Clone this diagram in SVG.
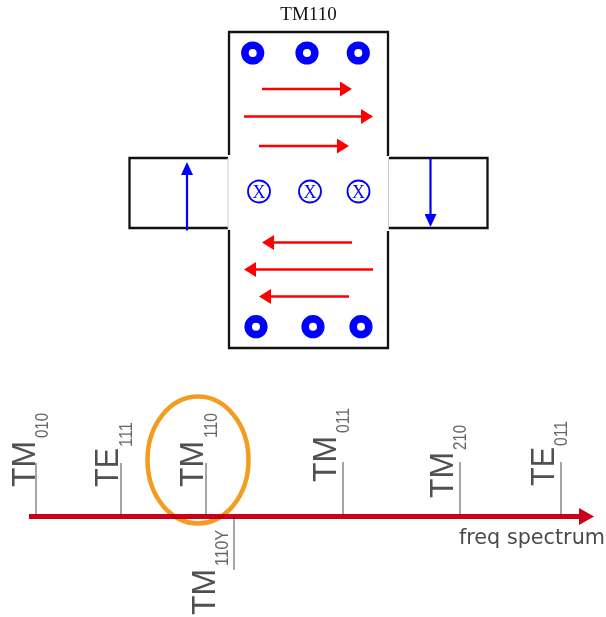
<svg xmlns="http://www.w3.org/2000/svg" width="606" height="617" viewBox="0 0 606 617">
<style>
.wall{fill:none;stroke:#111;stroke-width:2.300}
.seam{fill:none;stroke:#ccc;stroke-width:1}
.ring{fill:#fff;stroke:#00f;stroke-width:7.600}
.cross{fill:#fff;stroke:#00f;stroke-width:1.800}
.x{font-family:"Liberation Serif",serif;font-size:18px;fill:#00f;text-anchor:middle}
.red{stroke:#f00;stroke-width:2.300;fill:none}
.blue{stroke:#00f;stroke-width:2.200;fill:none}
.tick{stroke:#777;stroke-width:1.300}
.m{font-family:"Liberation Sans",sans-serif;font-size:33px;fill:#505050}
.s{font-family:"Liberation Sans",sans-serif;font-size:18px;fill:#666}
</style>
<defs>
<marker id="hr" markerUnits="userSpaceOnUse" markerWidth="12" markerHeight="15" refX="0" refY="7.500" orient="auto"><path d="M0 0L12 7.500L0 15Z" fill="#f00"/></marker>
<marker id="hb" markerUnits="userSpaceOnUse" markerWidth="13" markerHeight="12" refX="0" refY="6" orient="auto"><path d="M0 0L13 6L0 12Z" fill="#00f"/></marker>
</defs>
<text id="title" x="308.500" y="19.500" font-family="Liberation Serif, serif" font-size="19" text-anchor="middle" fill="#111">TM110</text>
<g id="cavity">
<path class="wall" d="M229 155V32H388V156"/>
<path class="wall" d="M229 230V348H388V231"/>
<path class="wall" d="M228 158H129.500V228H228"/>
<path class="wall" d="M389 158H487.500V228H389"/>
<path class="seam" d="M228 158V228M388.500 158V230"/>
</g>
<g id="rings-top"><circle class="ring" cx="252.700" cy="53" r="7.800"/><circle class="ring" cx="307" cy="53" r="7.800"/><circle class="ring" cx="358.300" cy="53" r="7.800"/></g>
<g id="rings-bottom"><circle class="ring" cx="256" cy="326.700" r="7.800"/><circle class="ring" cx="313" cy="326.700" r="7.800"/><circle class="ring" cx="361" cy="326.700" r="7.800"/></g>
<g id="crosses">
<circle class="cross" cx="259" cy="191.500" r="11"/><text class="x" x="259" y="197.500">X</text>
<circle class="cross" cx="310" cy="191.500" r="11"/><text class="x" x="310" y="197.500">X</text>
<circle class="cross" cx="358.500" cy="191.500" r="11"/><text class="x" x="358.500" y="197.500">X</text>
</g>
<g id="connectors">
<path class="red" marker-end="url(#hr)" d="M262 89H340"/>
<path class="red" marker-end="url(#hr)" d="M244 116.500H361"/>
<path class="red" marker-end="url(#hr)" d="M259 146H337"/>
<path class="red" marker-end="url(#hr)" d="M352 242.500H274"/>
<path class="red" marker-end="url(#hr)" d="M373 269.500H256"/>
<path class="red" marker-end="url(#hr)" d="M349 296.500H271"/>
<path class="blue" marker-end="url(#hb)" d="M187 230.500V175"/>
<path class="blue" marker-end="url(#hb)" d="M430.500 158V214"/>
</g>
<g id="spectrum">
<path class="tick" d="M36 463V515M121 463V515M206 463V515M343 462V515M460 462V515M561 462V515M234 517V570"/>
<ellipse cx="198" cy="460" rx="50.500" ry="63.500" fill="none" stroke="#f39c1f" stroke-width="4.500"/>
<path d="M29 516.500H580" stroke="#c8001e" stroke-width="5" fill="none" style="mix-blend-mode:multiply"/>
<path d="M579 508L594 516.500L579 525Z" fill="#c8001e"/>
<text x="459" y="544" font-family="DejaVu Sans, sans-serif" font-size="21" fill="#4a4a4a" textLength="146" lengthAdjust="spacingAndGlyphs">freq spectrum</text>
</g>
<g id="labels">
<text class="m" textLength="46" lengthAdjust="spacingAndGlyphs" transform="translate(35 487) rotate(-90)">TM</text><text class="s" textLength="25" lengthAdjust="spacingAndGlyphs" transform="translate(47.500 438) rotate(-90)">010</text>
<text class="m" textLength="39" lengthAdjust="spacingAndGlyphs" transform="translate(118 487) rotate(-90)">TE</text><text class="s" textLength="25" lengthAdjust="spacingAndGlyphs" transform="translate(131.500 447) rotate(-90)">111</text>
<text class="m" textLength="46" lengthAdjust="spacingAndGlyphs" transform="translate(203 487) rotate(-90)">TM</text><text class="s" textLength="25" lengthAdjust="spacingAndGlyphs" transform="translate(216.500 438) rotate(-90)">110</text>
<text class="m" textLength="46" lengthAdjust="spacingAndGlyphs" transform="translate(215 615) rotate(-90)">TM</text><text class="s" textLength="36" lengthAdjust="spacingAndGlyphs" transform="translate(227.500 566) rotate(-90)">110Y</text>
<text class="m" textLength="46" lengthAdjust="spacingAndGlyphs" transform="translate(336 482) rotate(-90)">TM</text><text class="s" textLength="25" lengthAdjust="spacingAndGlyphs" transform="translate(349 433) rotate(-90)">011</text>
<text class="m" textLength="46" lengthAdjust="spacingAndGlyphs" transform="translate(452.700 498) rotate(-90)">TM</text><text class="s" textLength="25" lengthAdjust="spacingAndGlyphs" transform="translate(465.700 450) rotate(-90)">210</text>
<text class="m" textLength="39" lengthAdjust="spacingAndGlyphs" transform="translate(554 486) rotate(-90)">TE</text><text class="s" textLength="25" lengthAdjust="spacingAndGlyphs" transform="translate(567 446) rotate(-90)">011</text>
</g>
</svg>
